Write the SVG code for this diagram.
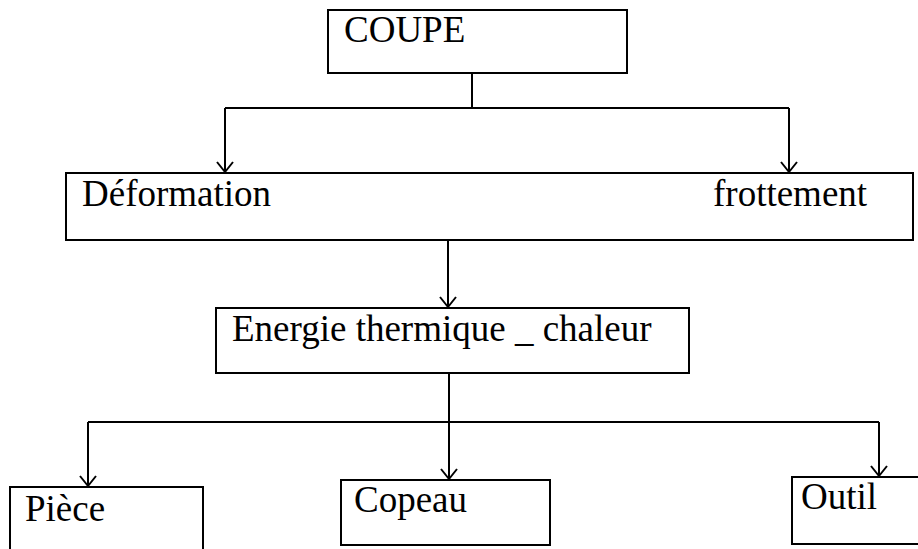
<svg xmlns="http://www.w3.org/2000/svg" width="918" height="549" viewBox="0 0 918 549">
<style>
.box{fill:#fff;stroke:#000;stroke-width:2}
.t{font-family:"Liberation Serif","Times New Roman",serif;font-size:37px;fill:#000}
.c{fill:none;stroke:#000;stroke-width:2}
.a{fill:none;stroke:#000;stroke-width:2}
</style>
<defs>
<marker id="arr" markerUnits="userSpaceOnUse" markerWidth="20" markerHeight="16" refX="10" refY="13" orient="0" viewBox="0 0 20 16">
<path d="M2,3 L10,13 L18,3" fill="none" stroke="#000" stroke-width="2"/>
</marker>
</defs>
<rect width="918" height="549" fill="#fff"/>
<g id="connectors">
<path class="c" d="M472,73 V108"/>
<path class="c" d="M225,108 H789"/>
<path class="c" d="M225,108 V172" marker-end="url(#arr)"/>
<path class="c" d="M789,108 V172" marker-end="url(#arr)"/>
<path class="c" d="M448,240 V307" marker-end="url(#arr)"/>
<path class="c" d="M449,373 V479" marker-end="url(#arr)"/>
<path class="c" d="M88,422 H879"/>
<path class="c" d="M88,422 V486" marker-end="url(#arr)"/>
<path class="c" d="M879,422 V476" marker-end="url(#arr)"/>
</g>
<g id="coupe">
<rect class="box" x="328" y="10" width="299" height="63"/>
<text class="t" x="344" y="42">COUPE</text>
</g>
<g id="deformation">
<rect class="box" x="66" y="173" width="847" height="67"/>
<text class="t" x="82" y="206">Déformation</text>
<text class="t" x="713" y="206">frottement</text>
</g>
<g id="energie">
<rect class="box" x="216" y="308" width="473" height="65"/>
<text class="t" x="232" y="341">Energie thermique _ chaleur</text>
</g>
<g id="piece">
<rect class="box" x="10" y="487" width="193" height="80"/>
<text class="t" x="25" y="521">Pièce</text>
</g>
<g id="copeau">
<rect class="box" x="341" y="480" width="209" height="65"/>
<text class="t" x="354" y="512">Copeau</text>
</g>
<g id="outil">
<rect class="box" x="792" y="477" width="140" height="67"/>
<text class="t" x="801" y="509">Outil</text>
</g>
</svg>
